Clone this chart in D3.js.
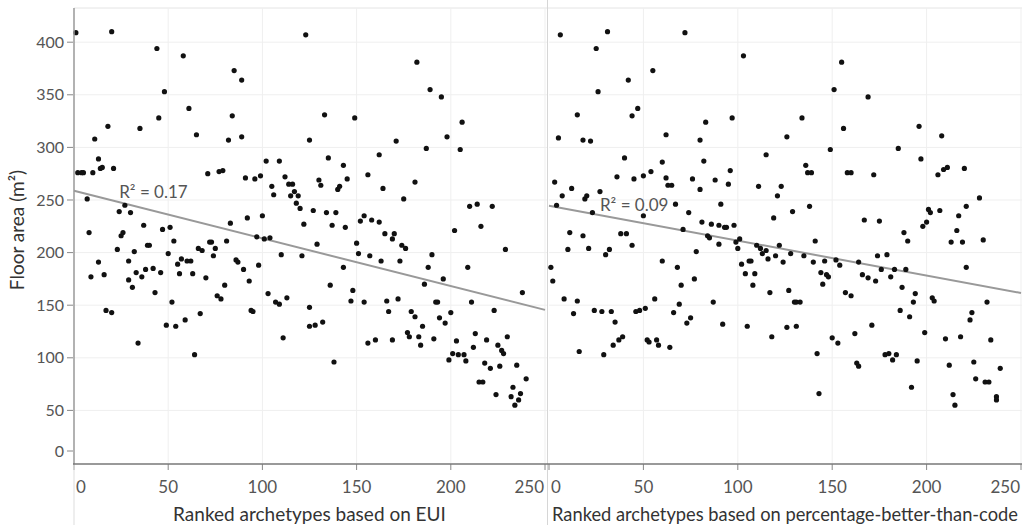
<!DOCTYPE html>
<html>
<head>
<meta charset="utf-8">
<style>
body { margin: 0; background: #fff; }
svg { display: block; font-family: Lato, "Open Sans", sans-serif; }
.tick-label { fill: #555; font-size: 16px; }
.x-tick { font-size: 17px; }
.axis-title { fill: #333; font-size: 19px; }
.r2 { fill: #555; font-size: 17px; }
</style>
</head>
<body>
<svg width="1022" height="525"></svg>
<script src="https://cdn.jsdelivr.net/npm/d3@7"></script>
<script>

// ranked by EUI: [rank, floor area m2]
var euiPoints = [
  [1,409],[20,410],[44,394],[58,387],[123,407],[48,353],[85,373],[89,364],[61,337],[45,328],[84,330],[18,320],[35,318],[65,312],[11,308],[82,307],[89,310],[125,307],[13,289],[2,276],[4,276],[5,276],[10,276],[14,280],[15,281],[21,280],[71,275],[77,277],[79,278],[91,271],[96,270],[99,273],[102,287],[109,287],[112,272],[114,265],[116,265],[117,258],[115,254],[119,254],[105,263],[106,255],[118,247],[120,242],[122,227],[7,251],[24,239],[27,245],[30,238],[8,219],[37,226],[47,222],[51,224],[25,216],[26,219],[83,228],[92,233],[100,235],[97,215],[101,213],[104,214],
  [9,177],[13,191],[16,179],[17,145],[20,143],[23,203],[29,192],[29,174],[31,167],[32,201],[33,181],[34,114],[36,177],[38,184],[39,207],[40,207],[42,185],[43,162],[46,181],[49,131],[50,199],[52,153],[53,211],[54,130],[55,189],[56,180],[57,194],[59,136],[60,192],[62,192],[63,180],[64,103],[66,204],[68,202],[67,142],[70,176],[72,210],[73,210],[74,197],[75,204],[76,159],[78,156],[80,169],[81,211],[86,193],[87,191],[90,184],[93,173],[94,145],[95,144],[98,188],[103,161],[107,153],[109,151],[110,198],[111,119],[113,157],[121,197],[125,148],[125,130],
  [182,381],[189,355],[195,348],[133,331],[149,328],[206,324],[171,306],[198,310],[187,299],[205,298],[135,290],[162,293],[143,283],[130,269],[131,264],[145,270],[140,260],[141,263],[156,274],[164,261],[181,267],[175,251],[127,240],[134,238],[139,238],[137,226],[144,224],[152,230],[154,235],[158,231],[162,229],[165,218],[170,218],[169,213],[210,244],[214,246],[222,244],[202,221],[216,225],
  [129,208],[150,209],[151,199],[157,197],[163,192],[174,207],[176,204],[173,192],[190,198],[188,186],[209,186],[229,203],[143,186],[136,169],[148,164],[147,154],[154,153],[166,154],[172,156],[186,170],[196,175],[192,153],[193,153],[211,153],[238,162],[223,145],[128,131],[132,134],[138,96],[156,114],[160,117],[167,144],[169,117],[179,144],[181,139],[185,130],[177,124],[178,120],[183,120],[184,112],[191,118],[194,138],[197,133],[200,143],[199,98],[201,104],[204,103],[207,103],[208,97],[203,116],[212,110],[213,123],[219,117],[218,95],[221,90],[215,77],[217,77],[225,112],[226,92],[227,107],[228,104],[230,120],[235,93],[224,65],[232,63],[233,72],[236,60],[234,55],[237,66],[240,80]
];

// ranked by percentage-better-than-code
var pbtcPoints = [
  [6,407],[31,410],[72,409],[25,394],[103,387],[55,373],[42,364],[26,353],[47,337],[15,331],[44,330],[83,324],[97,328],[5,309],[18,307],[22,306],[62,312],[80,307],[126,310],[40,290],[82,287],[60,286],[115,293],[3,267],[7,254],[12,261],[19,251],[20,254],[27,258],[36,272],[45,270],[50,273],[54,277],[62,271],[63,264],[65,264],[76,270],[80,260],[88,269],[96,278],[95,265],[111,263],[123,263],[121,254],[4,245],[23,238],[50,235],[67,246],[74,238],[91,246],[119,233],[11,219],[18,216],[38,218],[41,218],[71,222],[81,229],[86,227],[90,226],[93,224],[94,224],[98,226],[84,216],[85,214],[101,213],
  [10,203],[21,204],[30,198],[32,203],[44,207],[1,186],[2,173],[8,156],[15,154],[13,142],[16,106],[24,145],[28,144],[33,144],[35,134],[29,103],[34,112],[37,117],[39,120],[46,144],[48,145],[51,147],[56,156],[60,192],[52,117],[53,115],[57,117],[58,112],[64,110],[66,143],[68,186],[70,169],[69,151],[73,133],[75,138],[77,175],[78,201],[90,208],[87,153],[92,132],[99,210],[100,204],[102,189],[104,180],[106,192],[107,192],[108,169],[109,180],[105,130],[110,207],[112,204],[113,199],[115,202],[116,194],[117,162],[118,120],[120,197],[122,207],[124,191],[127,164],[126,129],[128,199],
  [155,381],[151,355],[169,348],[134,328],[156,318],[196,320],[208,311],[149,298],[185,299],[197,289],[136,283],[137,276],[139,276],[158,276],[160,276],[172,274],[206,274],[209,279],[211,281],[220,280],[129,239],[138,244],[167,231],[175,230],[228,252],[221,244],[217,235],[201,241],[202,238],[207,240],[200,229],[198,225],[188,219],[216,221],
  [135,197],[141,211],[140,191],[146,192],[144,181],[147,179],[148,177],[145,170],[130,153],[131,153],[133,153],[131,130],[142,104],[143,66],[152,193],[154,188],[164,191],[166,179],[169,176],[173,173],[174,197],[179,198],[176,184],[181,177],[183,184],[189,184],[190,211],[187,167],[157,162],[160,159],[193,153],[194,161],[186,145],[191,139],[150,119],[153,114],[162,123],[171,131],[163,95],[164,92],[178,103],[180,104],[184,103],[182,98],[192,72],[195,97],[199,124],[203,157],[204,154],[213,210],[219,210],[230,212],[221,186],[210,118],[212,93],[218,120],[214,65],[215,55],[223,136],[224,143],[225,96],[226,80],[231,77],[233,77],[232,153],[234,117],[237,63],[237,60],[239,90]
];

// linear fit: [intercept, slope]
var euiFit = [258.8, -0.453];
var pbtcFit = [244.6, -0.332];
var r2Labels = ["R\u00b2 = 0.17", "R\u00b2 = 0.09"];
var xTitles = ["Ranked archetypes based on EUI", "Ranked archetypes based on percentage-better-than-code"];
var xTicks = [0, 50, 100, 150, 200, 250];
var yTicks = [0, 50, 100, 150, 200, 250, 300, 350, 400];

var svg = d3.select("svg"),
    width = +svg.attr("width"),
    height = +svg.attr("height"),
    plotTop = 8,
    plotBottom = 463;

var y = d3.scaleLinear().domain([0, 432.5]).range([plotBottom, plotTop]);

var panels = [
  { pts: euiPoints, fit: euiFit, r2: r2Labels[0], title: xTitles[0], titleSize: 19, x: d3.scaleLinear().domain([0, 250]).range([74, 545]), labelAt: 24 },
  { pts: pbtcPoints, fit: pbtcFit, r2: r2Labels[1], title: xTitles[1], titleSize: 18.3, x: d3.scaleLinear().domain([0, 250]).range([549, 1021]), labelAt: 27 }
];

/*top border*/
svg.append("line")
    .attr("x1", 74).attr("x2", width).attr("y1", plotTop).attr("y2", plotTop)
    .attr("stroke", "#e4e4e4");

panels.forEach(function(p, i) {
  var g = svg.append("g");
  var x0 = p.x.range()[0], x1 = p.x.range()[1];

  // grid
  g.selectAll(".hgrid").data(yTicks.filter(function(d) { return d > 0; }))
    .enter().append("line")
      .attr("x1", x0).attr("x2", i ? width : x1 + 2)
      .attr("y1", function(d) { return y(d); }).attr("y2", function(d) { return y(d); })
      .attr("stroke", "#efefef");
  g.selectAll(".vgrid").data(xTicks.filter(function(d) { return d > 0; }))
    .enter().append("line")
      .attr("x1", function(d) { return p.x(d); }).attr("x2", function(d) { return p.x(d); })
      .attr("y1", plotTop).attr("y2", plotBottom)
      .attr("stroke", "#efefef");

  // fit line
  g.append("line")
      .attr("x1", p.x(0)).attr("y1", y(p.fit[0]))
      .attr("x2", p.x(250)).attr("y2", y(p.fit[0] + p.fit[1] * 250))
      .attr("stroke", "#999").attr("stroke-width", 2);

  g.selectAll("circle").data(p.pts)
    .enter().append("circle")
      .attr("cx", function(d) { return p.x(d[0]); })
      .attr("cy", function(d) { return y(d[1]); })
      .attr("r", 2.6)
      .attr("fill", "#111");

  g.append("text").attr("class", "r2")
      .attr("x", p.x(p.labelAt))
      .attr("y", y(p.fit[0] + p.fit[1] * p.labelAt) - 4)
      .text(p.r2);

  // x ticks
  var xt = g.selectAll(".xt").data(xTicks).enter().append("g");
  xt.append("line")
      .attr("x1", function(d) { return p.x(d); }).attr("x2", function(d) { return p.x(d); })
      .attr("y1", plotBottom + 1).attr("y2", plotBottom + 7)
      .attr("stroke", "#888");
  xt.append("text").attr("class", "tick-label x-tick")
      .attr("x", function(d) { return d === 0 ? p.x(d) + 2 : d === 250 ? p.x(d) - 1 : p.x(d); })
      .attr("y", 493)
      .attr("text-anchor", function(d) { return d === 0 ? "start" : d === 250 ? "end" : "middle"; })
      .text(function(d) { return d; });

  g.append("text").attr("class", "axis-title")
      .attr("x", (x0 + x1) / 2).attr("y", 521)
      .attr("text-anchor", "middle")
      .style("font-size", p.titleSize + "px")
      .text(p.title);
});

/*panel separators*/
svg.append("line").attr("x1", 74).attr("x2", 74).attr("y1", plotBottom).attr("y2", height).attr("stroke", "#ddd");
svg.append("line").attr("x1", 547.5).attr("x2", 547.5).attr("y1", 0).attr("y2", height).attr("stroke", "#d6d6d6");

// axes lines
svg.append("line").attr("x1", 74).attr("x2", 74).attr("y1", plotTop).attr("y2", plotBottom + 1)
    .attr("stroke", "#999").attr("stroke-width", 1.5);
svg.append("line").attr("x1", 73).attr("x2", width).attr("y1", plotBottom + 1).attr("y2", plotBottom + 1)
    .attr("stroke", "#777").attr("stroke-width", 1.5);

var yt = svg.append("g").selectAll("g").data(yTicks).enter().append("g");
yt.append("line")
    .attr("x1", 67).attr("x2", 73)
    .attr("y1", function(d) { return d === 0 ? y(d) - 12 : y(d); })
    .attr("y2", function(d) { return d === 0 ? y(d) - 12 : y(d); })
    .attr("stroke", "#888");
yt.append("text").attr("class", "tick-label")
    .attr("x", 64)
    .attr("y", function(d) { return d === 0 ? y(d) - 12 : y(d); })
    .attr("dy", "0.35em")
    .attr("text-anchor", "end")
    .text(function(d) { return d; });

svg.append("text").attr("class", "axis-title")
    .attr("transform", "translate(24," + 230 + ") rotate(-90)")
    .attr("text-anchor", "middle")
    .text("Floor area (m\u00b2)");

</script>
</body>
</html>
